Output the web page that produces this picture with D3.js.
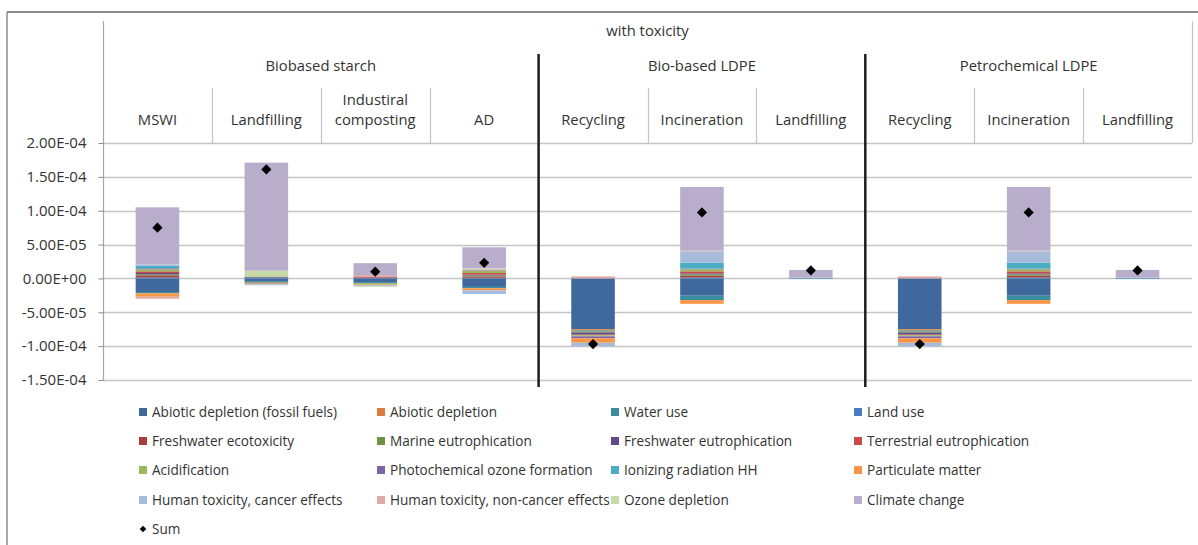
<!DOCTYPE html>
<html>
<head>
<meta charset="utf-8">
<script src="https://cdn.jsdelivr.net/npm/d3@7"></script>
<style>
  html, body { margin: 0; padding: 0; background: #fff; }
  svg { display: block; font-family: "Open Sans", "Liberation Sans", sans-serif; }
</style>
</head>
<body>
<svg id="chart" width="1198" height="545"></svg>
<script>
// ---------- DATA (values in units of 1e-5) ----------
const categories = ["MSWI", "Landfilling", "Industiral\ncomposting", "AD",
                    "Recycling", "Incineration", "Landfilling",
                    "Recycling", "Incineration", "Landfilling"];
const groups = ["Biobased starch", "Bio-based LDPE", "Petrochemical LDPE"];
const groupOfCategory = [0, 0, 0, 0, 1, 1, 1, 2, 2, 2];
const title = "with toxicity";

const seriesNames = [
  "Abiotic depletion (fossil fuels)", "Abiotic depletion", "Water use", "Land use",
  "Freshwater ecotoxicity", "Marine eutrophication", "Freshwater eutrophication", "Terrestrial eutrophication",
  "Acidification", "Photochemical ozone formation", "Ionizing radiation HH", "Particulate matter",
  "Human toxicity, cancer effects", "Human toxicity, non-cancer effects", "Ozone depletion", "Climate change"
];
const seriesColors = [
  "#3F689C", "#DA7D3C", "#3A8D9E", "#4A7EC0",
  "#A83D3C", "#6E9246", "#604A8A", "#C84B4B",
  "#9BBB59", "#8064A2", "#4BACC6", "#F79646",
  "#A7BBDB", "#DFA9A8", "#C6D9A6", "#B8AECB"
];

const abioticFossil      = [-2.0, -0.4, -0.55, -1.25, -7.5, -2.55, -0.07, -7.5, -2.55, -0.07];
const abioticDepletion   = [0, 0, 0, 0, -0.2, 0, 0, -0.2, 0, 0];
const waterUse           = [-0.2, -0.15, -0.15, -0.2, -0.15, -0.65, 0, -0.15, -0.65, 0];
const landUse            = [0.15, 0.1, 0.1, 0.1, 0, 0.15, 0, 0, 0.15, 0];
const freshwaterEcotox   = [0.3, 0, 0.1, 0.2, 0, 0.25, 0, 0, 0.25, 0];
const marineEutro        = [0.15, -0.1, -0.1, 0.15, -0.15, 0.2, 0, -0.15, 0.2, 0];
const freshwaterEutro    = [0.2, 0.1, 0, 0.1, -0.3, 0.15, 0, -0.3, 0.15, 0];
const terrestrialEutro   = [0.25, 0, 0, 0.25, -0.1, 0.3, 0, -0.1, 0.3, 0];
const acidification      = [0.3, 0.1, -0.1, 0.3, -0.15, 0.3, 0, -0.15, 0.3, 0];
const photochemOzone     = [0.15, -0.1, 0, 0.1, -0.3, 0.1, 0, -0.3, 0.1, 0];
const ionizingRadiation  = [0.4, 0, 0, 0, 0, 0.85, 0.05, 0, 0.85, 0.05];
const particulateMatter  = [-0.5, -0.1, -0.1, -0.3, -0.65, -0.55, 0, -0.65, -0.55, 0];
const humanToxCancer     = [0.15, -0.15, -0.15, -0.55, -0.5, 1.7, 0.1, -0.5, 1.7, 0.1];
const humanToxNonCancer  = [-0.3, 0, 0.3, 0.15, 0.3, 0.1, 0, 0.3, 0.1, 0];
const ozoneDepletion     = [0, 0.85, -0.1, 0.15, 0, 0, 0, 0, 0, 0];
const climateChange      = [8.45, 15.95, 1.75, 3.1, 0, 9.4, 1.1, 0, 9.4, 1.1];

const sumValues          = [7.5, 16.1, 1.0, 2.3, -9.7, 9.75, 1.18, -9.7, 9.75, 1.18];

const unit = 1e-5;
const yTicks = [-1.5e-4, -1.0e-4, -5e-5, 0, 5e-5, 1.0e-4, 1.5e-4, 2.0e-4];

const seriesValues = [abioticFossil, abioticDepletion, waterUse, landUse,
  freshwaterEcotox, marineEutro, freshwaterEutro, terrestrialEutro,
  acidification, photochemOzone, ionizingRadiation, particulateMatter,
  humanToxCancer, humanToxNonCancer, ozoneDepletion, climateChange];

// ---------- BUILD TABLE ----------
const table = categories.map((c, i) => {
  const row = { idx: i };
  seriesNames.forEach((s, k) => { row[s] = seriesValues[k][i] * unit; });
  return row;
});

// ---------- LAYOUT ----------
const svg = d3.select("#chart");
const plotLeft = 103, plotRight = 1192, plotTop = 143, plotBottom = 380;

const x = d3.scaleBand().domain(d3.range(categories.length)).range([plotLeft, plotRight]).padding(0);
const y = d3.scaleLinear().domain([-1.5e-4, 2.0e-4]).range([plotBottom, plotTop]);
const barW = x.bandwidth() * 0.4;

// outer frame
svg.append("line").attr("x1", 7).attr("x2", 1198).attr("y1", 12).attr("y2", 12)
  .attr("stroke", "#8a8a8a").attr("stroke-width", 2);
svg.append("line").attr("x1", 7).attr("x2", 7).attr("y1", 12).attr("y2", 545)
  .attr("stroke", "#8a8a8a").attr("stroke-width", 1.5);

// gridlines
svg.append("g").selectAll("line").data(yTicks).join("line")
  .attr("x1", plotLeft).attr("x2", plotRight)
  .attr("y1", d => Math.round(y(d)) + 0.5).attr("y2", d => Math.round(y(d)) + 0.5)
  .attr("stroke", "#c4c4c4").attr("stroke-width", 1.3);

// header box lines
svg.append("line").attr("x1", plotLeft + 0.5).attr("x2", plotLeft + 0.5).attr("y1", 21).attr("y2", plotBottom)
  .attr("stroke", "#a6a6a6").attr("stroke-width", 1.2);
svg.append("line").attr("x1", plotRight + 0.5).attr("x2", plotRight + 0.5).attr("y1", 21).attr("y2", plotTop)
  .attr("stroke", "#c4c4c4").attr("stroke-width", 1.2);

// sub-category dividers
const dividers = d3.range(1, categories.length).filter(i => groupOfCategory[i] === groupOfCategory[i - 1]);
svg.append("g").selectAll("line").data(dividers).join("line")
  .attr("x1", d => Math.round(x(d)) + 0.5).attr("x2", d => Math.round(x(d)) + 0.5)
  .attr("y1", 88).attr("y2", plotTop)
  .attr("stroke", "#c4c4c4").attr("stroke-width", 1.2);

// y axis
const fmt = v => {
  const s = Math.abs(v) < 1e-20 ? "0.00e+0" : v.toExponential(2);
  const [m, e] = s.split("e");
  const sign = e[0] === "-" ? "-" : "+";
  const digits = e.replace(/[+-]/, "").padStart(2, "0");
  return m + "E" + sign + digits;
};
const yAxis = svg.append("g").attr("transform", `translate(${plotLeft + 0.5},0)`)
  .call(d3.axisLeft(y).tickValues(yTicks).tickFormat(fmt).tickSize(5).tickPadding(12));
yAxis.select(".domain").remove();
yAxis.selectAll(".tick line").attr("stroke", "#8a8a8a");
yAxis.selectAll(".tick text").attr("font-size", 15).attr("fill", "#333")
  .attr("font-family", "'Open Sans', sans-serif");

// stacked bars
const stack = d3.stack().keys(seriesNames).order(d3.stackOrderNone).offset(d3.stackOffsetDiverging);
const layers = stack(table);
svg.append("g").selectAll("g").data(layers).join("g")
  .attr("fill", (d, k) => seriesColors[k])
  .selectAll("rect").data(d => d).join("rect")
  .attr("x", d => x(d.data.idx) + (x.bandwidth() - barW) / 2)
  .attr("width", barW)
  .attr("y", d => y(Math.max(d[0], d[1])))
  .attr("height", d => Math.abs(y(d[0]) - y(d[1])));

// thick group separators
const groupBreaks = d3.range(1, categories.length).filter(i => groupOfCategory[i] !== groupOfCategory[i - 1]);
svg.append("g").selectAll("line").data(groupBreaks).join("line")
  .attr("x1", d => x(d)).attr("x2", d => x(d))
  .attr("y1", 54).attr("y2", 387)
  .attr("stroke", "#1e1e1e").attr("stroke-width", 2.5);

// sum diamonds
const diamond = d3.symbol().type(d3.symbolSquare).size(52);
svg.append("g").selectAll("path").data(sumValues).join("path")
  .attr("d", diamond)
  .attr("transform", (d, i) => `translate(${x(i) + x.bandwidth() / 2},${y(d * unit)}) rotate(45)`)
  .attr("fill", "#000");

// header texts
const textColor = "#333";
const headerSize = 14.8;
svg.append("text").attr("x", (plotLeft + plotRight) / 2).attr("y", 36)
  .attr("text-anchor", "middle").attr("font-size", headerSize).attr("fill", textColor).text(title);

const groupExtents = groups.map((g, gi) => {
  const idxs = d3.range(categories.length).filter(i => groupOfCategory[i] === gi);
  return [x(idxs[0]), x(idxs[idxs.length - 1]) + x.bandwidth()];
});
svg.append("g").selectAll("text").data(groups).join("text")
  .attr("x", (d, gi) => (groupExtents[gi][0] + groupExtents[gi][1]) / 2)
  .attr("y", 71).attr("text-anchor", "middle").attr("font-size", headerSize).attr("fill", textColor)
  .text(d => d);

const catText = svg.append("g").selectAll("text").data(categories).join("text")
  .attr("x", (d, i) => x(i) + x.bandwidth() / 2)
  .attr("text-anchor", "middle").attr("font-size", headerSize).attr("fill", textColor);
catText.each(function (d) {
  const lines = d.split("\n");
  const t = d3.select(this);
  const baseY = 125 - (lines.length - 1) * 20;
  lines.forEach((ln, j) => {
    t.append("tspan").attr("x", t.attr("x")).attr("y", baseY + j * 20).text(ln);
  });
});

// legend
const legendColX = [139, 377, 611, 854];
const legendRowY = [412, 441, 470, 500, 529];
const legendSize = 13.6;
const legend = svg.append("g");
seriesNames.forEach((s, k) => {
  const col = k % 4, row = Math.floor(k / 4);
  legend.append("rect").attr("x", legendColX[col]).attr("y", legendRowY[row] - 4)
    .attr("width", 8).attr("height", 8).attr("fill", seriesColors[k]);
  legend.append("text").attr("x", legendColX[col] + 13).attr("y", legendRowY[row] + 5)
    .attr("font-size", legendSize).attr("fill", textColor).text(s);
});
legend.append("path")
  .attr("d", d3.symbol().type(d3.symbolSquare).size(22))
  .attr("transform", `translate(${legendColX[0] + 4},${legendRowY[4]}) rotate(45)`)
  .attr("fill", "#000");
legend.append("text").attr("x", legendColX[0] + 13).attr("y", legendRowY[4] + 5)
  .attr("font-size", legendSize).attr("fill", textColor).text("Sum");
</script>
</body>
</html>
